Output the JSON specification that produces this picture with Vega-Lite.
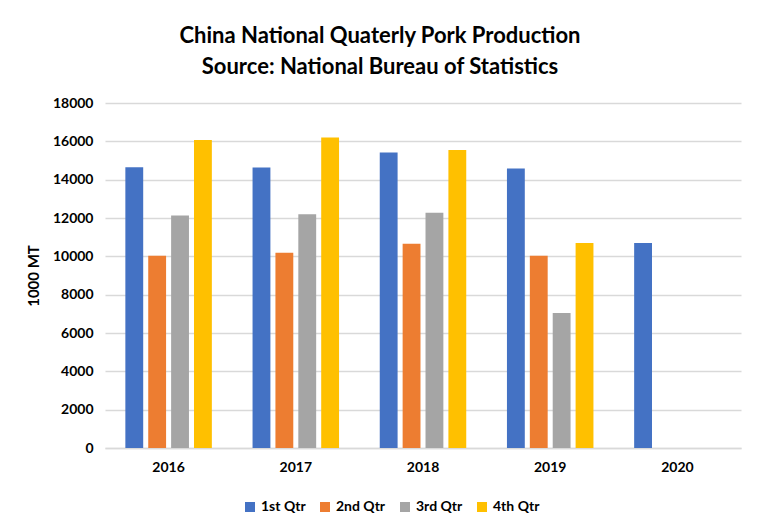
{
  "$schema": "https://vega.github.io/schema/vega-lite/v6.json",
  "autosize": "none",
  "width": 636,
  "height": 345,
  "padding": {"left": 105, "top": 103, "right": 19, "bottom": 83},
  "background": "white",
  "title": {
    "text": ["China National Quaterly Pork Production", "Source: National Bureau of Statistics"],
    "font": "Lato",
    "fontSize": 22,
    "fontWeight": "bold",
    "color": "#000000",
    "anchor": "middle",
    "lineHeight": 31,
    "offset": 17,
    "dx": -43
  },
  "config": {
    "font": "Lato",
    "view": {"stroke": null}
  },
  "data": {
    "values": [
      {"year": "2016", "qtr": "1st Qtr", "value": 14650},
      {"year": "2016", "qtr": "2nd Qtr", "value": 10030},
      {"year": "2016", "qtr": "3rd Qtr", "value": 12130},
      {"year": "2016", "qtr": "4th Qtr", "value": 16070},
      {"year": "2017", "qtr": "1st Qtr", "value": 14630},
      {"year": "2017", "qtr": "2nd Qtr", "value": 10190},
      {"year": "2017", "qtr": "3rd Qtr", "value": 12190},
      {"year": "2017", "qtr": "4th Qtr", "value": 16200},
      {"year": "2018", "qtr": "1st Qtr", "value": 15420},
      {"year": "2018", "qtr": "2nd Qtr", "value": 10660},
      {"year": "2018", "qtr": "3rd Qtr", "value": 12270},
      {"year": "2018", "qtr": "4th Qtr", "value": 15550},
      {"year": "2019", "qtr": "1st Qtr", "value": 14580},
      {"year": "2019", "qtr": "2nd Qtr", "value": 10030},
      {"year": "2019", "qtr": "3rd Qtr", "value": 7050},
      {"year": "2019", "qtr": "4th Qtr", "value": 10690},
      {"year": "2020", "qtr": "1st Qtr", "value": 10690}
    ]
  },
  "mark": {"type": "bar"},
  "encoding": {
    "x": {
      "field": "year",
      "type": "nominal",
      "scale": {"paddingInner": 0.32, "paddingOuter": 0.16},
      "axis": {
        "title": null,
        "labelAngle": 0,
        "labelFontSize": 14,
        "labelFontWeight": "bold",
        "labelColor": "#000000",
        "labelPadding": 12,
        "ticks": false,
        "domainColor": "#d9d9d9",
        "domainWidth": 1.5
      }
    },
    "xOffset": {
      "field": "qtr",
      "type": "nominal",
      "scale": {"paddingInner": 0.22, "paddingOuter": 0}
    },
    "y": {
      "field": "value",
      "type": "quantitative",
      "scale": {"domain": [0, 18000], "nice": false},
      "axis": {
        "title": "1000 MT",
        "titleFontSize": 15,
        "titleFontWeight": "bold",
        "titleColor": "#000000",
        "titlePadding": 11,
        "values": [0, 2000, 4000, 6000, 8000, 10000, 12000, 14000, 16000, 18000],
        "format": "d",
        "labelFontSize": 14,
        "labelFontWeight": "bold",
        "labelColor": "#000000",
        "labelPadding": 12,
        "ticks": false,
        "domain": false,
        "gridColor": "#d9d9d9",
        "gridWidth": 1.5
      }
    },
    "color": {
      "field": "qtr",
      "type": "nominal",
      "scale": {
        "domain": ["1st Qtr", "2nd Qtr", "3rd Qtr", "4th Qtr"],
        "range": ["#4472C4", "#ED7D31", "#A5A5A5", "#FFC000"]
      },
      "legend": {
        "orient": "none",
        "legendX": 138,
        "legendY": 397,
        "direction": "horizontal",
        "title": null,
        "symbolType": "square",
        "symbolSize": 100,
        "symbolStrokeWidth": 0,
        "labelFontSize": 14,
        "labelFontWeight": "bold",
        "labelColor": "#000000",
        "columnPadding": 12
      }
    }
  }
}
